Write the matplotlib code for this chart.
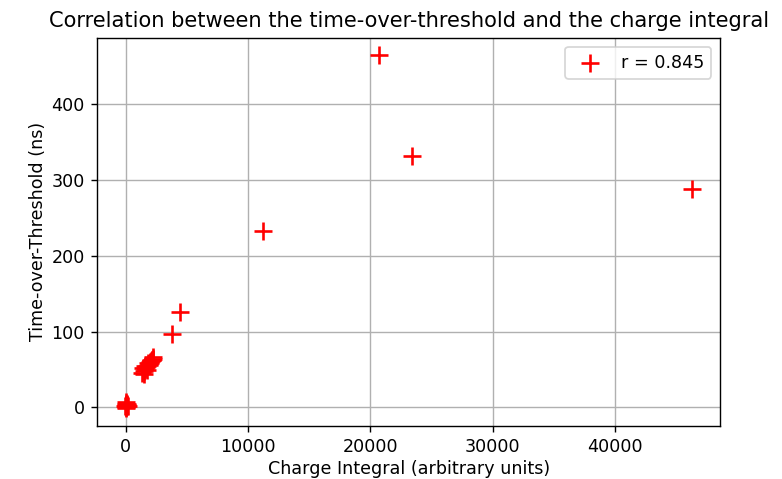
import numpy as np
import matplotlib.pyplot as plt

# charge integral vs time-over-threshold per event
charge = [46300, 23400, 20700, 11200, 4400, 3800,
          1300, 1450, 1550, 1650, 1750, 1850, 1950, 2050, 2150, 2250,
          1400, 1600, 1800, 2000, 2200, 1500, 1700, 1900, 2100,
          -50, 0, 30, 60, 100, 150, 0, 50, -20, 20]
tot = [288, 331, 464, 233, 126, 97,
       46, 48, 51, 53, 55, 57, 59, 61, 63, 66,
       52, 54, 58, 60, 64, 44, 50, 56, 62,
       2, 3, 4, 2, 3, 2, 7, 5, -1, 1]

r_label = 0.845

fig = plt.figure(figsize=(782 / 126, 479 / 126), dpi=126)
ax = fig.add_axes([0.124, 0.111, 0.797, 0.81])
ax.scatter(charge, tot, marker='+', s=95, color='red', linewidths=1.5,
           label='r = {:.3f}'.format(r_label), zorder=3)
ax.set_xlabel('Charge Integral (arbitrary units)', labelpad=2.5)
ax.set_ylabel('Time-over-Threshold (ns)', labelpad=2.5)
ax.set_title('Correlation between the time-over-threshold and the charge integral')
ax.set_xticks([0, 10000, 20000, 30000, 40000])
ax.set_yticks([0, 100, 200, 300, 400])
ax.grid(True)
ax.legend(loc='upper right')
fig.savefig('out.png')
